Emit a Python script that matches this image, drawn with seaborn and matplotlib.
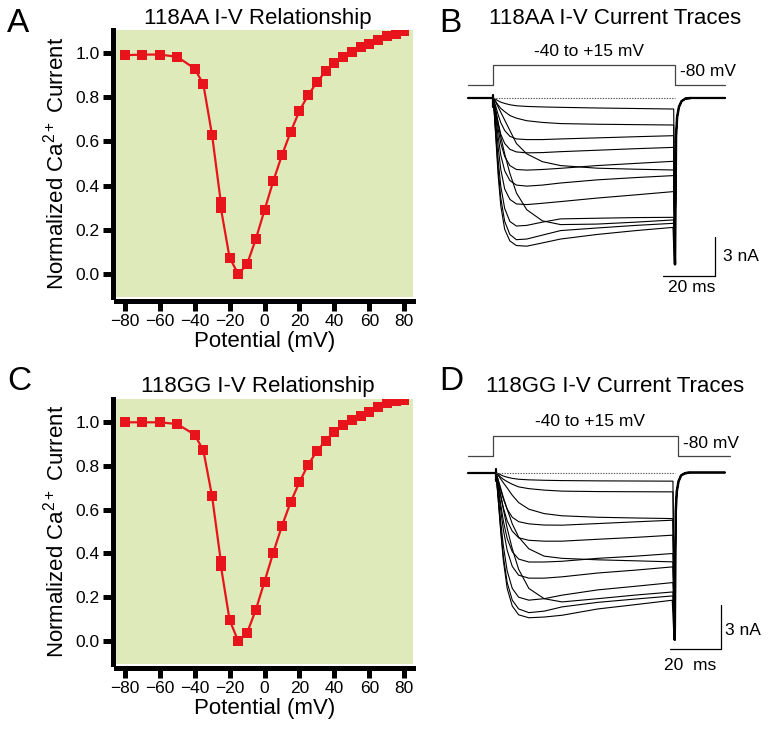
import numpy as np
import pandas as pd
import matplotlib
matplotlib.use("Agg")
import matplotlib.pyplot as plt
import seaborn as sns

# ---------------- I-V relationship data ----------------
IV_MV = [-80, -70, -60, -50, -40, -35, -30, -25, -25, -20, -15, -10, -5, 0, 5, 10,
         15, 20, 25, 30, 35, 40, 45, 50, 55, 60, 65, 70, 75, 80]
IV_AA = [0.989, 0.992, 0.992, 0.982, 0.929, 0.858, 0.628, 0.325, 0.300, 0.075, 0.0,
         0.045, 0.158, 0.289, 0.420, 0.538, 0.643, 0.738, 0.809, 0.867, 0.917, 0.955,
         0.982, 1.005, 1.027, 1.042, 1.057, 1.075, 1.087, 1.100]
IV_GG = [0.997, 0.997, 0.997, 0.989, 0.941, 0.869, 0.660, 0.365, 0.345, 0.098, 0.0,
         0.038, 0.143, 0.272, 0.403, 0.526, 0.634, 0.725, 0.804, 0.866, 0.914, 0.955,
         0.985, 1.008, 1.027, 1.045, 1.065, 1.083, 1.092, 1.100]
X_TICKS = [-80, -60, -40, -20, 0, 20, 40, 60, 80]
Y_TICKS = [0.0, 0.2, 0.4, 0.6, 0.8, 1.0]

# ---------------- current traces (ms, nA) ----------------
T_STEP = [0, 0.5, 1, 2, 3, 4.5, 6.5, 9, 13, 19, 26, 40, 55, 69.5]
TRACES_AA = [
    [0, -0.05, -0.10, -0.22, -0.32, -0.42, -0.52, -0.60, -0.65, -0.69, -0.72, -0.77, -0.81, -0.85],
    [0, -0.12, -0.25, -0.55, -0.80, -1.05, -1.35, -1.55, -1.75, -1.88, -1.97, -2.02, -2.05, -2.08],
    [0, -0.30, -0.60, -1.30, -1.90, -2.50, -2.95, -3.15, -3.20, -3.20, -3.15, -3.07, -2.98, -2.90],
    [0, -0.40, -0.90, -1.90, -2.80, -3.50, -3.95, -4.15, -4.22, -4.20, -4.13, -4.02, -3.90, -3.80],
    [0, -0.15, -0.30, -0.70, -1.10, -1.70, -2.50, -3.50, -4.30, -4.90, -5.20, -5.40, -5.48, -5.54],
    [0, -0.50, -1.10, -2.40, -3.50, -4.50, -5.20, -5.50, -5.55, -5.50, -5.41, -5.20, -5.03, -4.87],
    [0, -0.60, -1.40, -3.00, -4.40, -5.60, -6.35, -6.70, -6.78, -6.70, -6.54, -6.30, -6.12, -5.97],
    [0, -0.80, -1.80, -3.80, -5.50, -7.00, -7.80, -8.15, -8.20, -8.10, -7.97, -7.70, -7.45, -7.20],
    [0, -0.40, -0.90, -2.00, -3.00, -4.30, -5.80, -7.30, -8.60, -9.45, -9.74, -9.70, -9.55, -9.38],
    [0, -1.00, -2.30, -4.80, -6.80, -8.50, -9.50, -9.85, -9.80, -9.55, -9.30, -9.25, -9.20, -9.18],
    [0, -1.10, -2.60, -5.50, -7.70, -9.50, -10.50, -10.90, -10.85, -10.55, -10.20, -10.00, -9.80, -9.64],
    [0, -1.20, -2.80, -6.00, -8.30, -10.10, -11.00, -11.35, -11.40, -11.15, -10.85, -10.50, -10.20, -9.95],
]
TRACES_GG = [
    [0, -0.04, -0.08, -0.16, -0.24, -0.32, -0.40, -0.46, -0.50, -0.53, -0.55, -0.57, -0.58, -0.59],
    [0, -0.08, -0.16, -0.32, -0.46, -0.62, -0.80, -0.98, -1.10, -1.20, -1.27, -1.30, -1.31, -1.32],
    [0, -0.10, -0.20, -0.45, -0.70, -1.05, -1.55, -2.05, -2.50, -2.80, -2.95, -3.05, -3.10, -3.14],
    [0, -0.25, -0.55, -1.20, -1.80, -2.50, -3.05, -3.35, -3.50, -3.58, -3.59, -3.48, -3.36, -3.25],
    [0, -0.35, -0.75, -1.60, -2.40, -3.30, -4.00, -4.45, -4.62, -4.68, -4.68, -4.55, -4.42, -4.27],
    [0, -0.25, -0.50, -1.10, -1.70, -2.50, -3.50, -4.40, -5.20, -5.70, -5.85, -5.95, -6.02, -6.09],
    [0, -0.45, -1.00, -2.20, -3.30, -4.50, -5.40, -5.90, -6.10, -6.10, -6.05, -5.85, -5.70, -5.52],
    [0, -0.55, -1.20, -2.60, -3.90, -5.30, -6.40, -7.00, -7.20, -7.20, -7.11, -6.85, -6.65, -6.43],
    [0, -0.35, -0.75, -1.60, -2.50, -3.80, -5.20, -6.60, -7.90, -8.60, -8.82, -8.60, -8.35, -8.14],
    [0, -0.70, -1.60, -3.40, -5.00, -6.70, -7.90, -8.50, -8.70, -8.60, -8.36, -8.00, -7.75, -7.50],
    [0, -0.80, -1.80, -3.90, -5.70, -7.50, -8.70, -9.30, -9.55, -9.45, -9.16, -8.85, -8.62, -8.41],
    [0, -0.85, -1.90, -4.10, -6.00, -7.90, -9.10, -9.70, -9.90, -9.85, -9.73, -9.30, -9.00, -8.70],
]
TAIL_T_AA = [70.0, 70.4, 70.8, 71.5, 72.5, 74.0, 76.0, 89.2]
TAIL_I_AA = [-12.8, -3.0, -1.5, -0.7, -0.25, -0.05, 0.0, 0.0]
TAIL_T_GG = [70.2, 70.6, 71.0, 71.7, 72.7, 74.2, 76.2, 89.9]
TAIL_I_GG = [-11.4, -2.7, -1.3, -0.6, -0.2, -0.05, 0.0, 0.0]
PRE_T_AA = [-9.6, 0.0]
PRE_T_GG = [-10.9, 0.0]
ARTIFACT_AA = [0.2, -0.7]
ARTIFACT_GG = [0.25, -0.6]

# ---------------- voltage protocol ----------------
PROTO_T_AA = [-9.6, 0, 0, 70, 70, 89.2]
PROTO_T_GG = [-10.9, -0.9, -0.9, 71.5, 71.5, 92.0]
PROTO_V = [-80, -80, 15, 15, -80, -80]

# ---------------- style ----------------
sns.set_style("white")
plt.rcParams["font.family"] = ["Liberation Sans", "DejaVu Sans"]
plt.rcParams["mathtext.fontset"] = "custom"
plt.rcParams["mathtext.rm"] = "Liberation Sans"
plt.rcParams["mathtext.it"] = "Liberation Sans:italic"
for key in ["text.color", "axes.labelcolor", "xtick.color", "ytick.color"]:
    plt.rcParams[key] = "black"

RED = "#e8141c"
GREEN = "#deeab9"
W, H = 768, 730
fig = plt.figure(figsize=(W / 100, H / 100), dpi=100)


def frac_box(x0, y0, x1, y1):
    return [x0 / W, 1 - y1 / H, (x1 - x0) / W, (y1 - y0) / H]


def iv_panel(box, yvals, title, title_y, letter, letter_y):
    ax = fig.add_axes(frac_box(*box))
    ax.set_facecolor(GREEN)
    df = pd.DataFrame({"mv": IV_MV, "val": yvals, "idx": range(len(IV_MV))})
    ax.plot(IV_MV, yvals, color=RED, lw=1.6, zorder=2)
    sns.scatterplot(data=df, x="mv", y="val", color=RED, marker="s", s=58,
                    linewidth=0, ax=ax, zorder=3)
    ax.set_xlim(-85, 85)
    ax.set_ylim(-0.103, 1.103)
    ax.set_xticks(X_TICKS)
    ax.set_yticks(Y_TICKS)
    ax.set_yticklabels([f"{v:.1f}" for v in Y_TICKS])
    for s in ["top", "right"]:
        ax.spines[s].set_visible(False)
    for s in ["left", "bottom"]:
        ax.spines[s].set_linewidth(3.6)
        ax.spines[s].set_color("black")
    ax.spines["left"].set_position(("outward", 2.4))
    ax.spines["bottom"].set_position(("outward", 3.0))
    ax.tick_params(axis="both", which="major", direction="out", length=7, width=3.6,
                   labelsize=12.5, color="black", labelcolor="black", pad=2.5,
                   left=True, bottom=True)
    ax.set_xlabel("Potential (mV)", fontsize=16, labelpad=1, color="black")
    ax.set_ylabel(r"Normalized Ca$^{\mathregular{2+}}$ Current", fontsize=16,
                  labelpad=5, color="black")
    fig.text(258 / W, 1 - title_y / H, title, fontsize=16, ha="center",
             va="baseline", color="black")
    fig.text(7 / W, 1 - letter_y / H, letter, fontsize=24, ha="left",
             va="baseline", color="black")
    return ax


iv_panel((116, 30, 413, 297), IV_AA, "118AA I-V Relationship", 24, "A", 32)
iv_panel((116, 399, 413, 664), IV_GG, "118GG I-V Relationship", 392, "C", 390)


def trace_panel(tbox, tx, ty, pbox, py, traces, tail_t, tail_i, pre_t, art,
                proto_t, title, title_y, letter, letter_y,
                proto_lbl1, proto_lbl2, vbar, hbar, lbl_na, lbl_ms, ms_text):
    ax = fig.add_axes(frac_box(*tbox))
    ax.set_facecolor("none")
    rows = []
    for k, tr in enumerate(traces):
        for t, v in zip(T_STEP + tail_t, tr + tail_i):
            rows.append((k, t, v))
    df = pd.DataFrame(rows, columns=["trace", "t", "i"])
    sns.lineplot(data=df, x="t", y="i", units="trace", estimator=None, sort=False,
                 color="black", lw=0.8, ax=ax)
    # bold tail (many overlapping traces in the original)
    ax.plot([T_STEP[-1]] + tail_t[:-1], [traces[-1][-1]] + tail_i[:-1],
            color="black", lw=1.8, solid_capstyle="butt")
    ax.plot(tail_t[-3:], tail_i[-3:], color="black", lw=1.6)
    ax.plot(pre_t, [0, 0], color="black", lw=1.6)
    ax.plot([0, 0], art, color="black", lw=1.6)
    ax.plot([0, tail_t[0]], [0, 0], color="#555555", lw=0.8, ls=(0, (1.2, 1.2)))
    # scale bars
    ax.plot([vbar[0], vbar[0]], [vbar[1], vbar[2]], color="black", lw=0.9)
    ax.plot([hbar[0], hbar[1]], [hbar[2], hbar[2]], color="black", lw=0.9)
    ax.text(lbl_na[0], lbl_na[1], "3 nA", fontsize=12.5, ha="left", va="center")
    ax.text(lbl_ms[0], lbl_ms[1], ms_text, fontsize=12.5, ha="center", va="center")
    ax.set_xlim(*tx)
    ax.set_ylim(*ty)
    ax.axis("off")

    axp = fig.add_axes(frac_box(*pbox))
    axp.set_facecolor("none")
    pdf = pd.DataFrame({"t": proto_t, "v": PROTO_V})
    sns.lineplot(data=pdf, x="t", y="v", estimator=None, sort=False,
                 color="#444444", lw=0.9, ax=axp)
    axp.text(proto_lbl1[0], proto_lbl1[1], "-40 to +15 mV", fontsize=12.5,
             ha="center", va="center")
    axp.text(proto_lbl2[0], proto_lbl2[1], "-80 mV", fontsize=12.5,
             ha="left", va="center")
    axp.set_xlim(*tx)
    axp.set_ylim(*py)
    axp.axis("off")

    fig.text(615 / W, 1 - title_y / H, title, fontsize=16, ha="center", va="baseline")
    fig.text(439 / W, 1 - letter_y / H, letter, fontsize=24, ha="left", va="baseline")


trace_panel((440, 40, 768, 300), (-20.38, 105.77), (-15.54, 4.46),
            (440, 40, 768, 100), (-151.25, 133.8),
            TRACES_AA, TAIL_T_AA, TAIL_I_AA, PRE_T_AA, ARTIFACT_AA, PROTO_T_AA,
            "118AA I-V Current Traces", 24, "B", 32,
            (36.9, 76.8), (71.9, -18.2),
            (85.4, -10.69, -13.67), (65.5, 85.4, -13.67),
            (88.6, -12.18), (76.4, -14.6), "20 ms")

trace_panel((440, 410, 768, 670), (-21.84, 106.78), (-13.46, 4.26),
            (440, 410, 768, 470), (-148.9, 140.3),
            TRACES_GG, TAIL_T_GG, TAIL_I_GG, PRE_T_GG, ARTIFACT_GG, PROTO_T_GG,
            "118GG I-V Current Traces", 392, "D", 390,
            (37.0, 83.9), (73.4, -18.8),
            (88.4, -9.03, -12.03), (68.4, 88.4, -12.03),
            (90.0, -10.74), (76.2, -13.12), "20  ms")

fig.savefig("out.png", dpi=100)
